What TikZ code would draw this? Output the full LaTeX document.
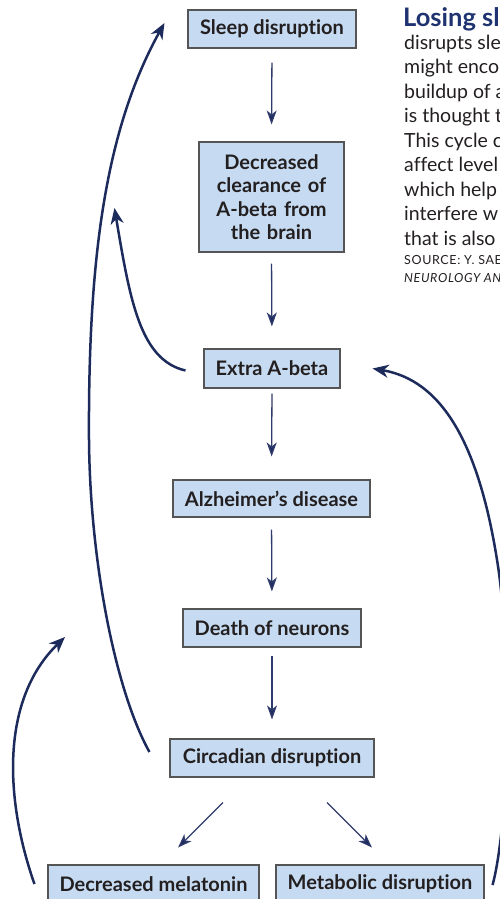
\documentclass[tikz,border=0pt]{standalone}
\usepackage{fontspec}
\setmainfont{Lato}[Ligatures=NoCommon]
\usetikzlibrary{arrows.meta,calc}
\definecolor{navy}{HTML}{1C2B5C}
\definecolor{arrowline}{HTML}{2F3B6C}
\definecolor{boxfill}{HTML}{C6DBF1}
\definecolor{boxline}{HTML}{555555}
\definecolor{titlecol}{HTML}{1E3370}
\definecolor{bodytext}{HTML}{231F20}
\tikzset{
  box/.style={draw=boxline, line width=1.1pt, fill=boxfill, inner sep=0pt,
    font=\bfseries\fontsize{20}{23.3}\selectfont, text=bodytext, align=center},
  flow/.style={draw=arrowline, line width=1.3pt,
    -{Stealth[length=14pt,width=10pt,inset=4pt,fill=navy]}},
  loop/.style={draw=navy, line width=2.5pt,
    -{Stealth[length=16pt,width=13pt,inset=5pt,fill=navy]}},
  bodyline/.style={anchor=base west, inner sep=0pt, text=bodytext,
    font=\fontsize{19.5}{24}\selectfont},
  srcline/.style={anchor=base west, inner sep=0pt, text=bodytext,
    font=\fontsize{12.5}{14}\selectfont\addfontfeature{LetterSpace=5}}
}
\begin{document}
\begin{tikzpicture}[x=1pt,y=-1pt]
\useasboundingbox (0,0) rectangle (500,899);
\clip (0,0) rectangle (500,899);

% boxes
\node[box, minimum width=168pt, minimum height=38pt] (sleep) at (272,29) {Sleep disruption};
\node[box, minimum width=145pt, minimum height=110pt, text width=140pt] (clear) at (271.5,197)
  {Decreased\\clearance of\\A-beta from\\the brain};
\node[box, minimum width=136pt, minimum height=39pt] (extra) at (272,368.5) {Extra A-beta};
\node[box, minimum width=197pt, minimum height=37pt] (alz) at (271.5,498.5) {Alzheimer’s disease};
\node[box, minimum width=178pt, minimum height=38pt] (death) at (272,628) {Death of neurons};
\node[box, minimum width=204pt, minimum height=38pt] (circ) at (272,758) {Circadian disruption};
\node[box, minimum width=211pt, minimum height=38pt] (mel) at (153.5,884) {Decreased melatonin};
\node[box, minimum width=208pt, minimum height=38pt] (meta) at (380,884) {Metabolic disruption};

% straight arrows
\draw[flow, shorten <=14pt, shorten >=17pt] (sleep.south) -- (clear.north);
\draw[flow, shorten <=11pt, shorten >=22pt] (clear.south) -- (extra.north);
\draw[flow, shorten <=5pt, shorten >=23pt] (extra.south) -- (alz.north);
\draw[flow, shorten <=12pt, shorten >=17pt] (alz.south) -- (death.north);
\draw[flow, shorten <=8pt, shorten >=19pt] (death.south) -- (circ.north);

% diagonal arrows
\coordinate (dlA) at ($(circ.south)+(-49,25)$);
\coordinate (dlB) at ($(circ.south)+(-94,70)$);
\coordinate (drA) at ($(circ.south)+(55,25)$);
\coordinate (drB) at ($(circ.south)+(100,70)$);
\draw[flow] (dlA) -- (dlB);
\draw[flow] (drA) -- (drB);

% curved feedback arrows
\coordinate (c1s) at ($(circ.west)+(-20,-6)$);
\coordinate (c1t) at ($(sleep.west)+(-23,-6)$);
\draw[loop] (c1s) .. controls (115,690) and (90,560) .. (89,440)
  .. controls (88,260) and (105,130) .. (c1t);

\coordinate (c2s) at ($(extra.west)+(-18,2)$);
\coordinate (c2t) at ($(clear.west)+(-84,11)$);
\draw[loop] (c2s) .. controls (140,360) and (130,300) .. (c2t);

\coordinate (c3s) at ($(mel.west)+(-13,0)$);
\coordinate (c3t) at (65,637);
\draw[loop] (c3s) .. controls (5,800) and (0,700) .. (c3t);

\coordinate (c4s) at ($(meta.east)+(8,1)$);
\coordinate (c4t) at ($(extra.east)+(32,0)$);
\draw[loop] (c4s) .. controls (505,840) and (515,700) .. (499,573)
  .. controls (480,440) and (440,380) .. (c4t);

% right-hand text
\node[anchor=base west, inner sep=0pt, text=titlecol,
  font=\bfseries\fontsize{25.5}{30}\selectfont] (title) at (403,27) {Losing sl};
\node[bodyline] (t1) at (404,49) {disrupts sle};
\node[bodyline] (t2) at (404,73.5) {might enco};
\node[bodyline] (t3) at (404,98) {buildup of a};
\node[bodyline] (t4) at (404,122.5) {is thought t};
\node[bodyline] (t5) at (404,147) {This cycle c};
\node[bodyline] (t6) at (404,171.5) {affect level};
\node[bodyline] (t7) at (404,196) {which help};
\node[bodyline] (t8) at (404,220.5) {interfere w};
\node[bodyline] (t9) at (404,245) {that is also};
\node[srcline] (s1) at (404,264) {SOURCE: Y. SAE};
\node[srcline] (s2) at (404,282) {\itshape NEUROLOGY AN};
\end{tikzpicture}
\end{document}
